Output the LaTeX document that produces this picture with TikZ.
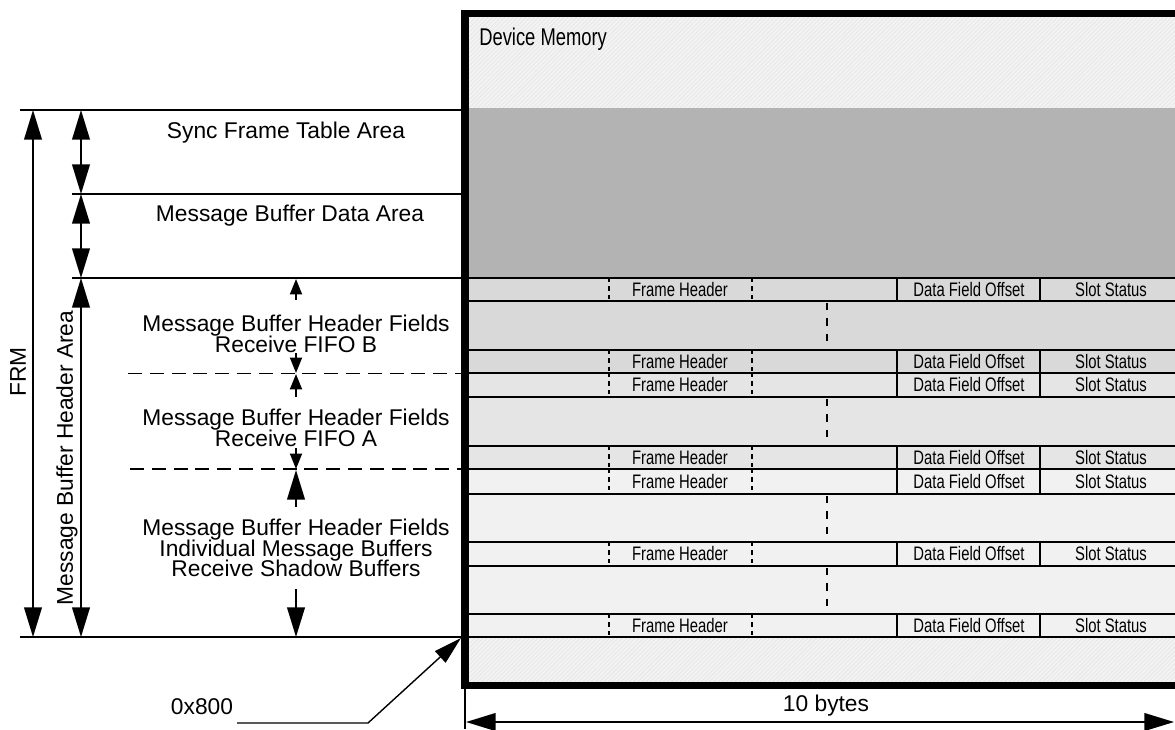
\documentclass[tikz,border=0pt]{standalone}
\usepackage{fontspec}
\setmainfont{Liberation Sans}
\newfontfamily\narrowfont[FakeStretch=0.76]{Liberation Sans}
\usetikzlibrary{arrows.meta,patterns}
\definecolor{hatchbg}{HTML}{F3F3F3}
\definecolor{hatchln}{HTML}{E4E4E4}
\definecolor{syncgrey}{HTML}{B3B3B3}
\definecolor{fifobgrey}{HTML}{D9D9D9}
\definecolor{fifoagrey}{HTML}{E5E5E5}
\definecolor{indivgrey}{HTML}{F1F1F1}
\newcommand\tightlines{\lineskiplimit=-20pt\relax}

\begin{document}
\begin{tikzpicture}[x=0.025cm,y=-0.025cm,>={Triangle[length=21pt,width=12.5pt]},
    label/.style={font=\fontsize{16.2}{14.6}\selectfont\tightlines,align=center,inner sep=0pt},
    field/.style={font=\narrowfont\fontsize{13.9}{15}\selectfont,inner sep=0pt},
    dimline/.style={line width=1.4pt},
    smallarrow/.style={line width=1.4pt,arrows={-Triangle[length=11pt,width=8.5pt]}},
    rowline/.style={line width=1.3pt},
    cutline/.style={line width=1.1pt,dash pattern=on 3pt off 3pt},
    skipline/.style={line width=1.7pt,dash pattern=on 5pt off 6pt},
    fifoline/.style={line width=1.3pt,dash pattern=on 10pt off 5.5pt}]
  \useasboundingbox (0,0) rectangle (1175,729);

  % memory map
  \fill[hatchbg] (465,13) rectangle (1175,108);
  \fill[pattern=north east lines,pattern color=hatchln] (465,13) rectangle (1175,108);
  \fill[hatchbg] (465,637) rectangle (1175,686);
  \fill[pattern=north east lines,pattern color=hatchln] (465,637) rectangle (1175,686);
  \fill[syncgrey] (465,108) rectangle (1175,278);
  \fill[fifobgrey] (465,278) rectangle (1175,373);
  \fill[fifoagrey] (465,373) rectangle (1175,469);
  \fill[indivgrey] (465,469) rectangle (1175,637);
  \foreach \y in {278,301,350,373,397,446,469,494,542,566,614,637}
    \draw[rowline] (465,\y) -- (1175,\y);
  \foreach \t/\b [count=\i] in {278/301,350/373,373/397,446/469,469/494,542/566,614/637} {
    \draw[cutline] (609,\t) -- (609,\b);
    \draw[cutline] (752,\t) -- (752,\b);
    \draw[line width=1.1pt] (897,\t) -- (897,\b);
    \draw[line width=1.1pt] (1040,\t) -- (1040,\b);
    \node[field] (fh\i) at (680,{(\t+\b)/2}) {Frame Header};
    \node[field] (dfo\i) at (969,{(\t+\b)/2}) {Data Field Offset};
    \node[field] (ss\i) at (1111,{(\t+\b)/2}) {Slot Status};
  }
  \foreach \t/\b in {301/350,397/446,494/542,566/614}
    \draw[skipline] (827,\t+2) -- (827,\b);
  \draw[line width=5.6pt,line join=miter] (1175,13.5) -- (465,13.5) -- (465,685.5) -- (1175,685.5);
  \node[font=\narrowfont\fontsize{17.2}{20}\selectfont,anchor=west,inner sep=0pt] (devmem) at (479,39) {Device Memory};

  % left scale
  \coordinate (frmtop) at (33,110);
  \coordinate (frmbot) at (33,637);
  \coordinate (synctop) at (81,110);
  \coordinate (datatop) at (81,194);
  \coordinate (hdrtop) at (81,278);
  \coordinate (hdrbot) at (81,637);
  \draw[dimline] (20,110) -- (461,110);
  \draw[dimline] (72,194) -- (461,194);
  \draw[dimline] (72,278) -- (461,278);
  \draw[dimline] (20,637) -- (461,637);
  \draw[fifoline] (128,373.5) -- (461,373.5);
  \draw[fifoline] (130,469) -- (461,469);
  \draw[dimline,<->] (frmtop) -- (frmbot);
  \draw[dimline,<->] (synctop) -- (datatop);
  \draw[dimline,<->] (datatop) -- (hdrtop);
  \draw[dimline,<->] (hdrtop) -- (hdrbot);
  \node[label,rotate=90] (frm) at (18,372) {FRM};
  \node[label,rotate=90] (hdrarea) at (67,458) {Message Buffer Header Area};
  \node[label] (sync) at (286,133) {Sync Frame Table Area};
  \node[label] (mbdata) at (290,216) {Message Buffer Data Area};
  \node[label] (fifob) at (296,334) {Message Buffer Header Fields\\Receive FIFO B};
  \node[label] (fifoa) at (296,428) {Message Buffer Header Fields\\Receive FIFO A};
  \node[label] (indiv) at (296,548) {Message Buffer Header Fields\\Individual Message Buffers\\Receive Shadow Buffers};
  \coordinate (fifobtop) at (296,279);
  \coordinate (fifobbot) at (296,373);
  \coordinate (fifoatop) at (296,374);
  \coordinate (fifoabot) at (296,469);
  \coordinate (indivtop) at (296,470);
  \coordinate (indivbot) at (296,637);
  \draw[smallarrow] (296,300) -- (fifobtop);
  \draw[smallarrow] (296,353) -- (fifobbot);
  \draw[smallarrow] (296,397) -- (fifoatop);
  \draw[smallarrow] (296,448) -- (fifoabot);
  \draw[dimline,->] (296,507) -- (indivtop);
  \draw[dimline,->] (296,589) -- (indivbot);

  % base address and width
  \node[label] (addr) at (202,707) {0x800};
  \coordinate (addrfoot) at (237,723);
  \coordinate (addrbend) at (368,723);
  \coordinate (corner) at (461,638);
  \draw[line width=1pt,arrows={-Triangle[length=20pt,width=11pt]}] (addrfoot) -- (addrbend) -- (corner);
  \coordinate (widthL) at (466,722);
  \coordinate (widthR) at (1174,722);
  \draw[line width=1pt] (465,686) -- (465,729);
  \draw[dimline,<->] (widthL) -- (widthR);
  \node[label] (bytes) at (826,706) {10 bytes};
\end{tikzpicture}
\end{document}
